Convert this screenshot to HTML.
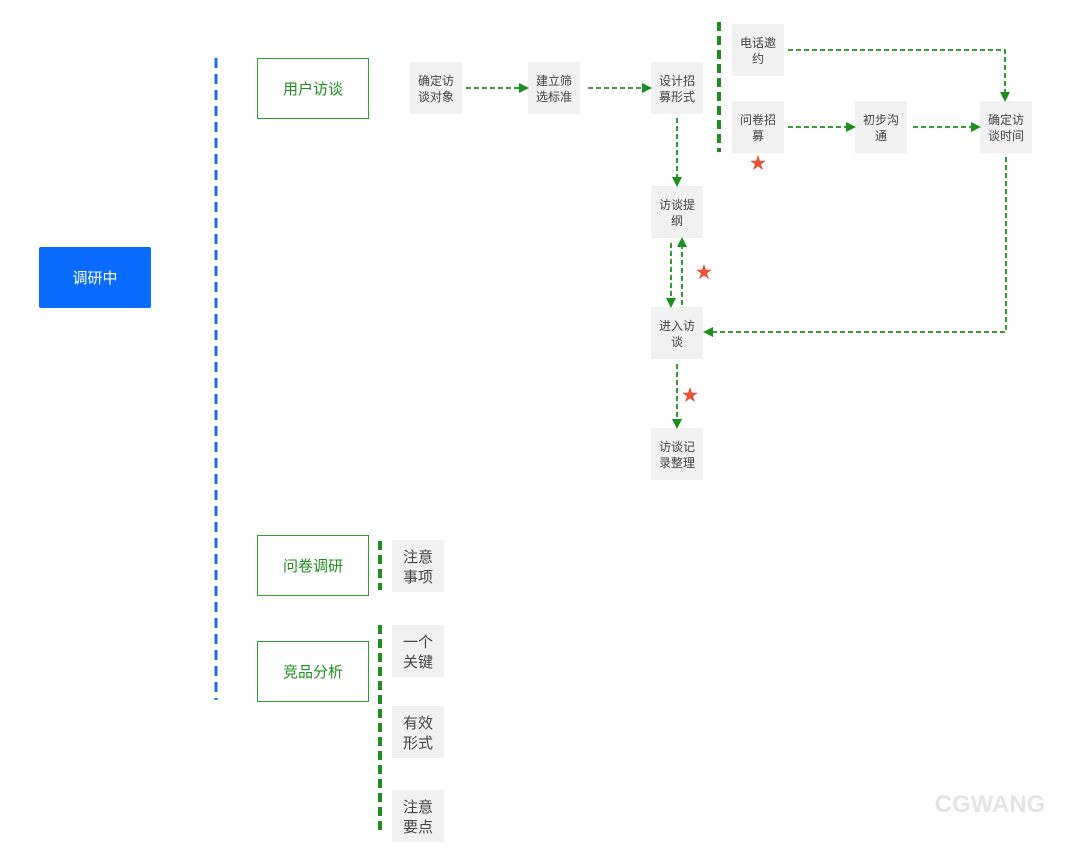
<!DOCTYPE html>
<html><head><meta charset="utf-8"><style>
body{margin:0;background:#fff}
svg text{font-family:"Liberation Sans","Noto Sans CJK SC",sans-serif}
</style></head><body>
<svg width="1080" height="842" viewBox="0 0 1080 842" xmlns="http://www.w3.org/2000/svg">
<defs>
<marker id="a" markerWidth="10" markerHeight="10" refX="8" refY="5" orient="auto" markerUnits="userSpaceOnUse"><path d="M0,0 L10,5 L0,10 z" fill="#1e8f1e"/></marker>
</defs>
<rect width="1080" height="842" fill="#fff"/>
<rect x="39" y="247" width="112" height="61" rx="2" fill="#0a6cff"/>
<text x="95" y="283" fill="#fff" font-size="15" text-anchor="middle">调研中</text>
<line x1="216" y1="58" x2="216" y2="700" stroke="#1a6fe0" stroke-width="3" stroke-dasharray="10,6"/>
<g fill="#fff" stroke="#2e9e2e" stroke-width="1">
<rect x="257.5" y="58.5" width="111" height="60"/>
<rect x="257.5" y="535.5" width="111" height="60"/>
<rect x="257.5" y="641.5" width="111" height="60"/>
</g>
<g fill="#1e8f1e" font-size="15" text-anchor="middle">
<text x="313" y="94">用户访谈</text>
<text x="313" y="571">问卷调研</text>
<text x="313" y="677">竞品分析</text>
</g>
<g fill="#f1f1f1">
<rect x="410" y="62" width="52" height="52"/>
<rect x="528" y="62" width="52" height="52"/>
<rect x="651" y="62" width="52" height="52"/>
<rect x="732" y="24" width="52" height="52"/>
<rect x="732" y="101" width="52" height="52"/>
<rect x="855" y="101" width="52" height="52"/>
<rect x="980" y="101" width="52" height="52"/>
<rect x="651" y="186" width="52" height="52"/>
<rect x="651" y="307" width="52" height="52"/>
<rect x="651" y="428" width="52" height="52"/>
<rect x="392" y="540" width="52" height="52"/>
<rect x="392" y="625" width="52" height="52"/>
<rect x="392" y="706" width="52" height="52"/>
<rect x="392" y="790" width="52" height="52"/>
</g>
<g fill="#444" font-size="12" text-anchor="middle">
<text x="436" y="85">确定访</text><text x="436" y="101">谈对象</text>
<text x="554" y="85">建立筛</text><text x="554" y="101">选标准</text>
<text x="677" y="85">设计招</text><text x="677" y="101">募形式</text>
<text x="758" y="47">电话邀</text><text x="758" y="63">约</text>
<text x="758" y="124">问卷招</text><text x="758" y="140">募</text>
<text x="881" y="124">初步沟</text><text x="881" y="140">通</text>
<text x="1006" y="124">确定访</text><text x="1006" y="140">谈时间</text>
<text x="677" y="209">访谈提</text><text x="677" y="225">纲</text>
<text x="677" y="330">进入访</text><text x="677" y="346">谈</text>
<text x="677" y="451">访谈记</text><text x="677" y="467">录整理</text>
</g>
<g fill="#444" font-size="15" text-anchor="middle">
<text x="418" y="562">注意</text><text x="418" y="582">事项</text>
<text x="418" y="647">一个</text><text x="418" y="667">关键</text>
<text x="418" y="728">有效</text><text x="418" y="748">形式</text>
<text x="418" y="812">注意</text><text x="418" y="832">要点</text>
</g>
<g stroke="#1e8f1e" stroke-width="4" stroke-dasharray="9,5">
<line x1="719" y1="22" x2="719" y2="152"/>
<line x1="380" y1="541" x2="380" y2="590"/>
<line x1="380" y1="625" x2="380" y2="835"/>
</g>
<g stroke="#1e8f1e" stroke-width="1.8" stroke-dasharray="5,3" fill="none" marker-end="url(#a)">
<line x1="466" y1="88" x2="527" y2="88"/>
<line x1="588" y1="88" x2="650" y2="88"/>
<line x1="677" y1="118" x2="677" y2="185"/>
<polyline points="788,50 1005,50 1005,100"/>
<line x1="788" y1="127" x2="854" y2="127"/>
<line x1="913" y1="127" x2="979" y2="127"/>
<polyline points="1006,157 1006,332 705,332"/>
<line x1="671" y1="243" x2="671" y2="306"/>
<line x1="682" y1="305" x2="682" y2="239"/>
<line x1="677" y1="364" x2="677" y2="427"/>
</g>
<g fill="#e8503a" font-size="17" text-anchor="middle">
<text x="758" y="169">★</text>
<text x="704" y="278">★</text>
<text x="690" y="401">★</text>
</g>
<text x="990" y="812" fill="#e4e4e4" font-size="24" font-weight="bold" text-anchor="middle">CGWANG</text>
</svg>
</body></html>
